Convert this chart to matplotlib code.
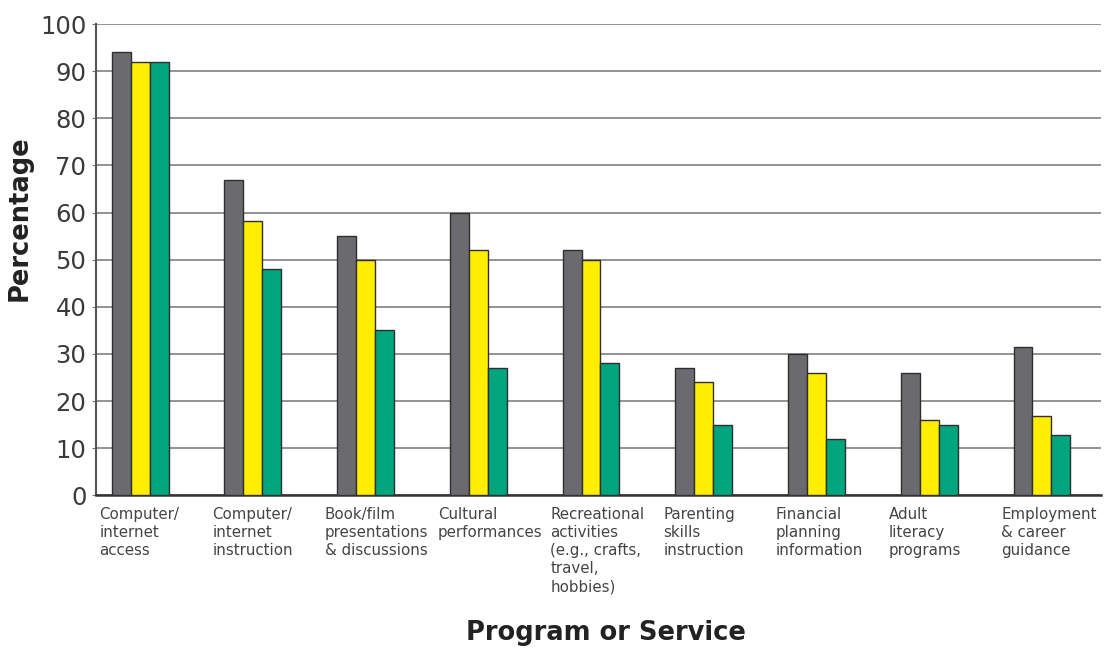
import numpy as np
import matplotlib.pyplot as plt
import matplotlib.transforms as mtransforms

categories = ['Computer/\ninternet\naccess',
              'Computer/\ninternet\ninstruction',
              'Book/film\npresentations\n& discussions',
              'Cultural\nperformances',
              'Recreational\nactivities\n(e.g., crafts,\ntravel,\nhobbies)',
              'Parenting\nskills\ninstruction',
              'Financial\nplanning\ninformation',
              'Adult\nliteracy\nprograms',
              'Employment\n& career\nguidance']
series_gray = [94, 67, 55, 60, 52, 27, 30, 26, 31.4]
series_yellow = [92, 58.2, 50, 52, 50, 24, 26, 16, 16.8]
series_green = [92, 48, 35, 27, 28, 15, 12, 15, 12.7]
yticks = [0, 10, 20, 30, 40, 50, 60, 70, 80, 90, 100]

fig = plt.figure(figsize=(11.05, 6.5), dpi=100)
ax = fig.add_axes([0.087, 0.238, 0.909, 0.725])

x = np.arange(len(categories))
w = 0.168
edge = '#2e2e2e'
ax.bar(x - w, series_gray, w, color='#6b6b6f', edgecolor=edge, linewidth=1, zorder=3)
ax.bar(x, series_yellow, w, color='#ffee00', edgecolor=edge, linewidth=1, zorder=3)
ax.bar(x + w, series_green, w, color='#00a57d', edgecolor=edge, linewidth=1, zorder=3)

ax.set_xlim(-0.39, 8.52)
ax.set_ylim(0, 100)
ax.set_yticks(yticks)
ax.tick_params(axis='y', labelsize=17.5, labelcolor='#3a3a3a', length=3, color='#777777', pad=4)
ax.yaxis.grid(True, color='#8a8a8a', linewidth=1.3, zorder=0)
ax.set_xticks([])

for s in ['top', 'right']:
    ax.spines[s].set_visible(False)
ax.spines['left'].set_color('#555555')
ax.spines['left'].set_linewidth(1.5)
ax.spines['bottom'].set_color('#333333')
ax.spines['bottom'].set_linewidth(1.8)

trans = mtransforms.blended_transform_factory(ax.transData, ax.transAxes)
for i, lab in enumerate(categories):
    ax.text(i - 0.36, -0.025, lab, transform=trans, ha='left', va='top',
            fontsize=10.8, color='#444444', linespacing=1.25)

ax.set_ylabel('Percentage', fontsize=18.5, fontweight='bold', color='#222222')
ax.yaxis.set_label_coords(-0.063, 0.588)
fig.text(0.548, 0.006, 'Program or Service', ha='center', va='bottom',
         fontsize=18.5, fontweight='bold', color='#222222')

plt.savefig('out.png', dpi=100)
